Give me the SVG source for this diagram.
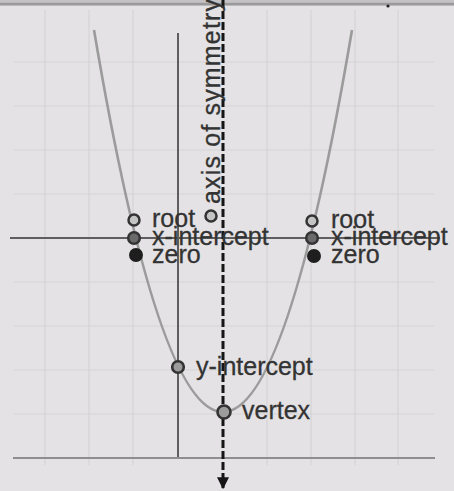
<svg xmlns="http://www.w3.org/2000/svg" width="454" height="491" viewBox="0 0 454 491">
<style>
  .grid { stroke: #d6d4d6; stroke-width: 1.2; fill: none; }
  .axis { stroke: #5e5e5e; stroke-width: 2; fill: none; }
  .frame { stroke: #8e8e8e; stroke-width: 2; fill: none; }
  .curve { stroke: #9b9b9b; stroke-width: 2.6; fill: none; }
  .sym { stroke: #151515; stroke-width: 3; stroke-dasharray: 8 3; fill: none; }
  .lbl { font-family: "Liberation Sans", Arial, sans-serif; font-size: 25px; fill: #333; stroke: #333; stroke-width: 0.3; }
  .open { fill: #c4c4c4; stroke: #333; stroke-width: 2.5; }
  .mid { fill: #6a6a6a; stroke: #333; stroke-width: 2.5; }
  .full { fill: #1e1e1e; stroke: #1e1e1e; stroke-width: 2; }
  .grey { fill: #9c9c9c; stroke: #333; stroke-width: 2.6; }
</style>
<defs>
  <marker id="arrow" viewBox="0 0 10 10" refX="9" refY="5" markerWidth="4" markerHeight="4" orient="auto" markerUnits="strokeWidth">
    <path d="M0,0 L10,5 L0,10 Z" fill="#151515"/>
  </marker>
</defs>

<rect x="0" y="0" width="454" height="491" fill="#e4e2e4"/>
<rect x="0" y="0" width="454" height="6" fill="#c4c2c4"/>
<line x1="0" y1="4" x2="454" y2="4" stroke="#9a9a9a" stroke-width="2.5"/>
<circle cx="388" cy="6" r="1.6" fill="#222"/>

<g id="grid">
  <path class="grid" d="M45,10 V465 M89,10 V465 M133,10 V465 M267,10 V465 M311,10 V465 M355,10 V465 M398,10 V465"/>
  <path class="grid" d="M13,62 H435 M13,106 H435 M13,150 H435 M13,194 H435 M13,282 H435 M13,326 H435 M13,370 H435 M13,414 H435"/>
</g>

<g id="axes">
  <line class="axis" x1="10" y1="238" x2="440" y2="238"/>
  <line class="axis" x1="178" y1="33" x2="178" y2="458"/>
  <line class="frame" x1="13" y1="458" x2="435" y2="458"/>
</g>

<g id="connectors">
  <path id="parabola" class="curve" d="M94,30 Q223,794 352,30"/>
  <line id="axis-of-symmetry-line" class="sym" x1="223" y1="0" x2="223" y2="488" marker-end="url(#arrow)"/>
</g>

<g id="axis-of-symmetry">
  <circle class="open" cx="211" cy="216" r="5.5" fill="#d6d6d6"/>
  <text class="lbl" transform="translate(220,204) rotate(-90)" textLength="205" lengthAdjust="spacing">axis of symmetry</text>
</g>

<g id="left-root">
  <circle class="open" cx="134" cy="220" r="5.5"/>
  <text class="lbl" x="152" y="227">root</text>
</g>
<g id="left-x-intercept">
  <circle class="mid" cx="134" cy="238" r="5.8"/>
  <text class="lbl" x="152" y="245">x-intercept</text>
</g>
<g id="left-zero">
  <circle class="full" cx="136" cy="255" r="6"/>
  <text class="lbl" x="152" y="263">zero</text>
</g>

<g id="right-root">
  <circle class="open" cx="312" cy="221" r="5.5"/>
  <text class="lbl" x="331" y="228">root</text>
</g>
<g id="right-x-intercept">
  <circle class="mid" cx="312" cy="238" r="5.8"/>
  <text class="lbl" x="331" y="245">x-intercept</text>
</g>
<g id="right-zero">
  <circle class="full" cx="314" cy="256" r="6"/>
  <text class="lbl" x="331" y="263">zero</text>
</g>

<g id="y-intercept">
  <circle class="grey" cx="178" cy="367" r="5.8" fill="#b0b0b0"/>
  <text class="lbl" x="196" y="375">y-intercept</text>
</g>

<g id="vertex">
  <circle class="grey" cx="224" cy="412" r="6.5"/>
  <text class="lbl" x="242" y="419">vertex</text>
</g>
</svg>
